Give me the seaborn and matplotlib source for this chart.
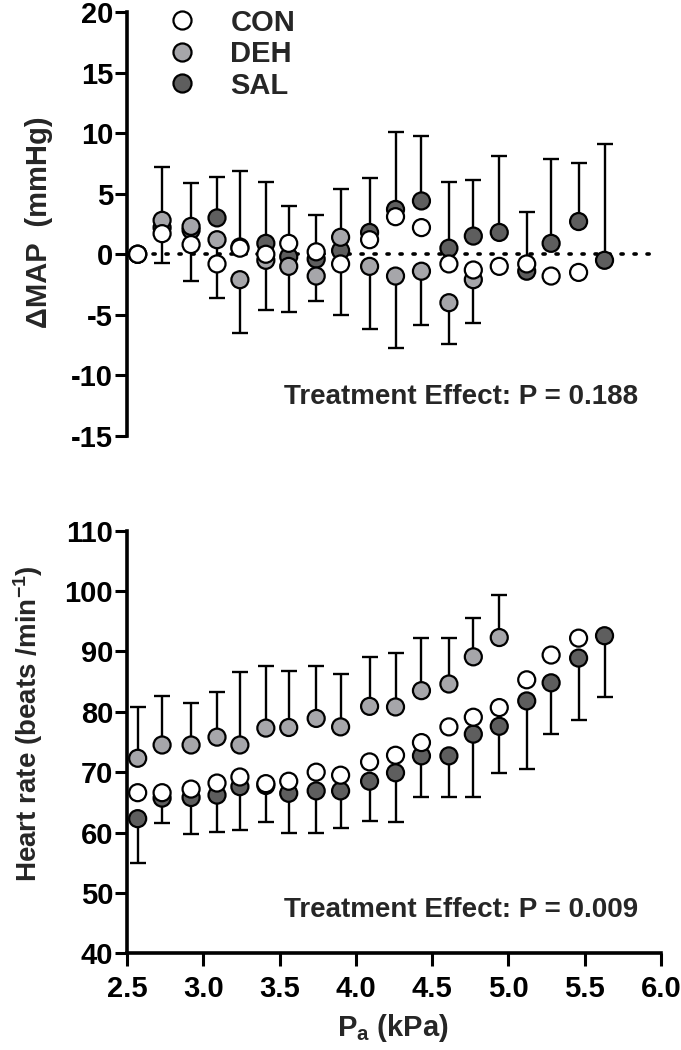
import matplotlib
matplotlib.use('Agg')
import matplotlib.pyplot as plt
from matplotlib.lines import Line2D
import numpy as np
import pandas as pd
import seaborn as sns

# arterial PO2 (kPa), shared x positions
pa = [2.57, 2.73, 2.92, 3.09, 3.24, 3.41, 3.56, 3.74, 3.90, 4.09,
      4.26, 4.43, 4.61, 4.77, 4.94, 5.12, 5.28, 5.46, 5.63]

# delta MAP (mmHg)
map_con = [0.0, 1.7, 0.8, -0.8, 0.5, 0.0, 0.9, 0.2, -0.8, 1.2,
           3.1, 2.2, -0.8, -1.3, -1.0, -0.8, -1.8, -1.5]
map_deh = [0.0, 2.8, 2.3, 1.2, -2.1, -0.5, -1.0, -1.8, 1.4, -1.0,
           -1.8, -1.4, -4.0, -2.1]
map_deh_err = [0.0, 3.5, 4.5, 4.8, 4.4, 4.1, 3.8, 2.1, 6.4, 5.2,
               5.9, 4.4, 3.4, 3.6]
map_sal = [0.0, 2.2, 2.0, 3.0, 0.6, 0.9, -0.2, -0.4, 0.3, 1.8,
           3.7, 4.4, 0.5, 1.5, 1.8, -1.4, 0.9, 2.7, -0.5]
map_sal_err = [0.0, 5.0, 3.9, 3.4, 6.3, 5.1, 4.2, 3.6, 5.1, 4.5,
               6.4, 5.4, 5.5, 4.6, 6.3, 4.9, 7.0, 4.8, 9.6]

# heart rate (beats/min)
hr_con = [66.6, 66.6, 67.2, 68.2, 69.2, 68.1, 68.5, 70.0, 69.5, 71.7,
          72.8, 74.9, 77.5, 79.1, 80.7, 85.3, 89.4, 92.2]
hr_deh = [72.3, 74.5, 74.5, 75.8, 74.5, 77.3, 77.4, 78.9, 77.5, 80.9,
          80.8, 83.5, 84.6, 89.1, 92.3]
hr_deh_err = [8.5, 8.1, 6.9, 7.4, 12.1, 10.3, 9.3, 8.7, 8.7, 8.2,
              8.9, 8.7, 7.6, 6.4, 7.1]
hr_sal = [62.3, 65.7, 65.8, 66.2, 67.6, 67.8, 66.5, 66.9, 66.9, 68.5,
          69.9, 72.7, 72.7, 76.3, 77.6, 81.8, 84.8, 88.9, 92.6]
hr_sal_err = [7.3, 4.2, 6.1, 6.1, 7.1, 6.1, 6.5, 6.9, 6.2, 6.6,
              8.2, 6.8, 6.8, 10.4, 7.8, 11.2, 8.4, 10.3, 10.1]

groups = ['CON', 'DEH', 'SAL']
palette = {'CON': '#ffffff', 'DEH': '#a6a6aa', 'SAL': '#5e5e5e'}

sns.set_style('ticks')
plt.rcParams['font.family'] = ['Liberation Sans', 'DejaVu Sans']
plt.rcParams['font.weight'] = 'bold'
plt.rcParams['mathtext.fontset'] = 'custom'
plt.rcParams['mathtext.rm'] = 'Liberation Sans:bold'
plt.rcParams['mathtext.default'] = 'rm'
plt.rcParams['axes.unicode_minus'] = False


def long_df(con, deh, sal):
    # SAL first, CON last so CON sits on top
    parts = []
    for name, vals in [('SAL', sal), ('DEH', deh), ('CON', con)]:
        parts.append(pd.DataFrame({'pa': pa[:len(vals)], 'val': vals, 'grp': name}))
    return pd.concat(parts, ignore_index=True)


def style_axis(ax):
    for sp in ['top', 'right']:
        ax.spines[sp].set_visible(False)
    for sp in ['left', 'bottom']:
        ax.spines[sp].set_linewidth(2.6)
        ax.spines[sp].set_color('black')
    ax.tick_params(direction='out', length=8.5, width=2.2, labelsize=21,
                   colors='black', pad=1.5)


fig = plt.figure(figsize=(6.81, 10.5), dpi=100)
ax1 = fig.add_axes([0.1865, 0.5848, 0.7841, 0.4038])
ax2 = fig.add_axes([0.1865, 0.0921, 0.7841, 0.4025])

ebkw = dict(fmt='none', ecolor='black', elinewidth=1.7, capsize=6,
            capthick=1.7, zorder=1)
sckw = dict(x='pa', y='val', hue='grp', palette=palette, s=150,
            edgecolor='black', linewidth=1.6, legend=False, zorder=3)

# ---- top panel: delta MAP
ax1.axhline(0, xmin=0, xmax=0.985, color='black', lw=2.6,
            linestyle=(0, (0.6, 3.0)), dash_capstyle='round', zorder=0)
n = len(map_sal)
ax1.errorbar(pa[:n], map_sal, yerr=[np.zeros(n), map_sal_err], **ebkw)
n = len(map_deh)
ax1.errorbar(pa[:n], map_deh, yerr=[map_deh_err, np.zeros(n)], **ebkw)
sns.scatterplot(data=long_df(map_con, map_deh, map_sal), ax=ax1, **sckw)

ax1.set_xlim(2.5, 6.0)
ax1.set_ylim(-15, 20)
ax1.set_yticks(range(-15, 21, 5))
ax1.set_xticks([])
ax1.set_xlabel('')
ax1.set_ylabel('')
style_axis(ax1)
ax1.spines['bottom'].set_visible(False)
ax1.text(0.957, 0.092, 'Treatment Effect: P = 0.188', transform=ax1.transAxes,
         ha='right', va='center', fontsize=20, fontweight='bold')

handles = [Line2D([], [], marker='o', ls='none', markersize=13,
                  markerfacecolor=palette[g], markeredgecolor='black',
                  markeredgewidth=1.6) for g in groups]
ax1.legend(handles, groups, loc='upper left', bbox_to_anchor=(0.076, 1.008),
           frameon=False, prop={'size': 21, 'weight': 'bold'},
           handlelength=1.0, handletextpad=1.15, labelspacing=0.12,
           borderpad=0, borderaxespad=0)

# ---- bottom panel: heart rate
n = len(hr_deh)
ax2.errorbar(pa[:n], hr_deh, yerr=[np.zeros(n), hr_deh_err], **ebkw)
n = len(hr_sal)
ax2.errorbar(pa[:n], hr_sal, yerr=[hr_sal_err, np.zeros(n)], **ebkw)
sns.scatterplot(data=long_df(hr_con, hr_deh, hr_sal), ax=ax2, **sckw)

ax2.set_xlim(2.5, 6.0)
ax2.set_ylim(40, 110)
ax2.set_yticks(range(40, 111, 10))
ax2.set_xticks(np.arange(2.5, 6.01, 0.5))
ax2.set_xticklabels([f'{v:.1f}' for v in np.arange(2.5, 6.01, 0.5)])
ax2.set_xlabel('')
ax2.set_ylabel('')
style_axis(ax2)
ax2.tick_params(axis='x', length=9.5, pad=6)
ax2.text(0.957, 0.102, 'Treatment Effect: P = 0.009', transform=ax2.transAxes,
         ha='right', va='center', fontsize=20, fontweight='bold')

# axis titles
fig.text(39 / 681, 1 - 222 / 1050, 'ΔMAP  (mmHg)', rotation=90,
         ha='center', va='center', fontsize=21, fontweight='bold')
fig.text(28 / 681, 1 - 724 / 1050, 'Heart rate (beats /min$^{-1}$)', rotation=90,
         ha='center', va='center', fontsize=20, fontweight='bold')
fig.text(393 / 681, 1 - 1028 / 1050, 'P$_{a}$ (kPa)',
         ha='center', va='center', fontsize=21, fontweight='bold')

fig.savefig('out.png', dpi=100)
